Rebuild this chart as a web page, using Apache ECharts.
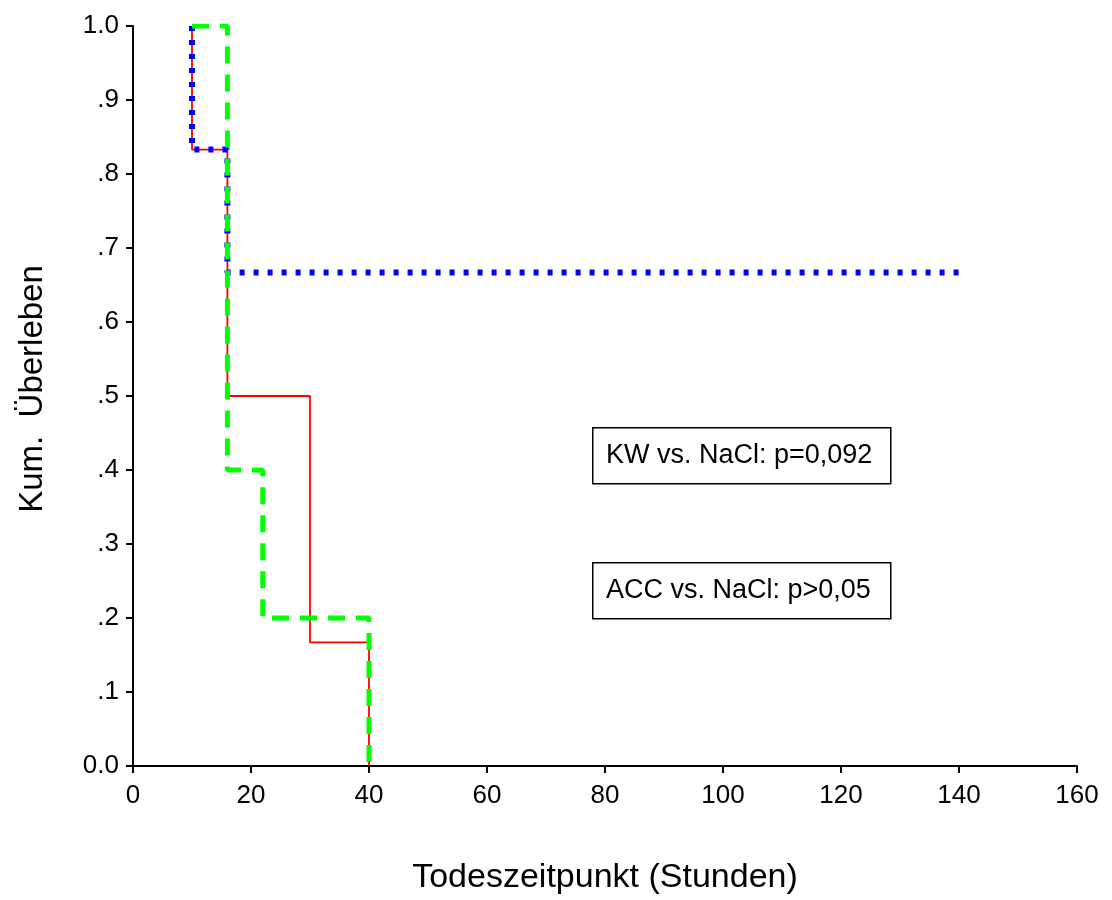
<!DOCTYPE html>
<html><head><meta charset="utf-8">
<script src="https://cdn.jsdelivr.net/npm/echarts@6/dist/echarts.min.js"></script>
<style>html,body{margin:0;padding:0;background:#fff}#c{width:1112px;height:900px}</style>
</head><body><div id="c"></div>
<script>
// Kaplan-Meier data (time in hours, cumulative survival)
const redTimes = [10, 10, 16, 30, 40];
const redSurv = [1.0, 0.833, 0.5, 0.167, 0.0];
const blueTimes = [10, 10, 16, 140];
const blueSurv = [1.0, 0.833, 0.667, 0.667];
const greenTimes = [10, 16, 22, 40];
const greenSurv = [1.0, 0.4, 0.2, 0.0];
const yTickLabels = {0: '0.0', 1: '.1', 2: '.2', 3: '.3', 4: '.4', 5: '.5', 6: '.6', 7: '.7', 8: '.8', 9: '.9', 10: '1.0'};
const annotations = ['KW vs. NaCl: p=0,092', 'ACC vs. NaCl: p>0,05'];

const zip = (t, s) => t.map((v, i) => [v, s[i]]);
const font = 'Liberation Sans, Arial, sans-serif';
const chart = echarts.init(document.getElementById('c'));
chart.setOption({
  animation: false,
  backgroundColor: '#fff',
  grid: {left: 133, right: 35, top: 26, bottom: 134},
  xAxis: {
    type: 'value', min: 0, max: 160, interval: 20,
    name: 'Todeszeitpunkt (Stunden)', nameLocation: 'middle', nameGap: 95,
    nameTextStyle: {fontFamily: font, fontSize: 34, color: '#000'},
    axisLine: {onZero: false, lineStyle: {color: '#000', width: 2}},
    axisTick: {length: 7, lineStyle: {color: '#000', width: 2}},
    axisLabel: {fontFamily: font, fontSize: 26, color: '#000', margin: 17},
    splitLine: {show: false}
  },
  yAxis: {
    type: 'value', min: 0, max: 1, interval: 0.1,
    name: 'Kum.  Überleben', nameLocation: 'middle', nameGap: 84,
    nameTextStyle: {fontFamily: font, fontSize: 33, color: '#000', padding: [0, 0, 0, 14]},
    axisLine: {show: true, lineStyle: {color: '#000', width: 2}},
    axisTick: {show: true, length: 7, lineStyle: {color: '#000', width: 2}},
    axisLabel: {fontFamily: font, fontSize: 26, color: '#000', margin: 14,
      formatter: v => yTickLabels[Math.round(v * 10)]},
    splitLine: {show: false}
  },
  series: [
    {type: 'line', step: 'end', data: zip(redTimes, redSurv), symbol: 'none',
      lineStyle: {color: '#ff0000', width: 1.8}, z: 2},
    {type: 'line', step: 'end', data: zip(blueTimes, blueSurv), symbol: 'none',
      lineStyle: {color: '#0000ff', width: 6, type: [5, 9]}, z: 3},
    {type: 'line', step: 'end', data: zip(greenTimes, greenSurv), symbol: 'none',
      lineStyle: {color: '#00ff00', width: 5, type: [17, 11]}, z: 4}
  ],
  graphic: [
    {type: 'rect', left: 592, top: 427, shape: {width: 298, height: 56},
      style: {fill: '#fff', stroke: '#000', lineWidth: 1.5}},
    {type: 'text', left: 606, top: 442, style: {text: annotations[0], font: '27px ' + font, fill: '#000'}},
    {type: 'rect', left: 592, top: 562, shape: {width: 298, height: 56},
      style: {fill: '#fff', stroke: '#000', lineWidth: 1.5}},
    {type: 'text', left: 606, top: 577, style: {text: annotations[1], font: '27px ' + font, fill: '#000'}}
  ]
});
</script></body></html>
